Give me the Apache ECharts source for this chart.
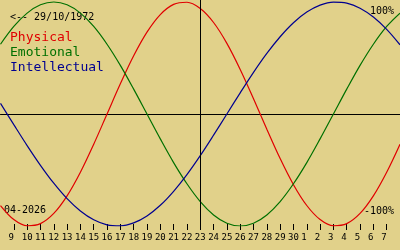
<!DOCTYPE html>
<html>
<head>
<meta charset="utf-8">
<script src="https://cdn.jsdelivr.net/npm/echarts@6/dist/echarts.min.js"></script>
<style>html,body{margin:0;padding:0;background:#e1d18a;}#c{width:400px;height:250px;}</style>
</head>
<body>
<div id="c"></div>
<script>
// Days from 8 April 2026 to 8 May 2026 (centre: 23 April)
const categories = ['8','9','10','11','12','13','14','15','16','17','18','19','20','21','22','23','24','25','26','27','28','29','30','1','2','3','4','5','6','7','8'];
const tickLabels = categories;
const centreIndex = 15;
const physical = [-81.7,-94.2,-99.8,-97.9,-88.8,-73.1,-52.0,-27.0,0,27.0,52.0,73.1,88.8,97.9,99.8,94.2,81.7,63.1,39.8,13.6,-13.6,-39.8,-63.1,-81.7,-94.2,-99.8,-97.9,-88.8,-73.1,-52.0,-27.0];
const emotional = [62.3,78.2,90.1,97.5,100,97.5,90.1,78.2,62.3,43.4,22.2,0,-22.2,-43.4,-62.3,-78.2,-90.1,-97.5,-100,-97.5,-90.1,-78.2,-62.3,-43.4,-22.2,0,22.2,43.4,62.3,78.2,90.1];
const intellectual = [9.5,-9.5,-28.2,-45.8,-61.8,-75.6,-86.6,-94.5,-99.0,-99.9,-97.2,-91.0,-81.5,-69.0,-54.1,-37.2,-18.9,0,18.9,37.2,54.1,69.0,81.5,91.0,97.2,99.9,99.0,94.5,86.6,75.6,61.8];
const birthText = '<-- 29/10/1972';
const monthText = '04-2026';
const topText = '100%';
const bottomText = '-100%';
const seriesNames = ['Physical','Emotional','Intellectual'];

const RED = '#e00000', GREEN = '#007000', BLUE = '#000090';
const MONO = '"DejaVu Sans Mono", monospace';
const inner = (i) => i > 0 && i < categories.length - 1;

const chart = echarts.init(document.getElementById('c'), null, {renderer: 'canvas'});
chart.setOption({
  animation: false,
  backgroundColor: '#e1d18a',
  grid: {left: 0.5, right: -0.5, top: 0, bottom: 24},
  xAxis: [{
    type: 'category', data: categories, boundaryGap: false, position: 'top',
    axisLine: {show: true, onZero: true, lineStyle: {color: '#000', width: 1}},
    axisTick: {show: false}, axisLabel: {show: false}, splitLine: {show: false}
  }, {
    type: 'category', data: tickLabels, boundaryGap: false, position: 'bottom', offset: -2,
    axisLine: {show: false, onZero: false},
    axisTick: {show: true, length: 6, interval: (i) => inner(i), lineStyle: {color: '#000', width: 1}},
    axisLabel: {interval: (i) => inner(i), margin: 9, color: '#000', fontFamily: MONO, fontSize: 9,
      formatter: (v) => v.length < 2 ? v + ' ' : v},
    splitLine: {show: false}
  }],
  yAxis: {type: 'value', min: -100, max: 101.8, show: false, splitLine: {show: false}},
  series: [
    {name: seriesNames[0], type: 'line', data: physical, smooth: 0.35, symbol: 'none', lineStyle: {color: RED, width: 1.2}, itemStyle: {color: RED},
     markLine: {silent: true, symbol: 'none', label: {show: false}, lineStyle: {color: '#000', width: 1, type: 'solid'}, data: [{xAxis: centreIndex}]}},
    {name: seriesNames[1], type: 'line', data: emotional, smooth: 0.35, symbol: 'none', lineStyle: {color: GREEN, width: 1.2}, itemStyle: {color: GREEN}},
    {name: seriesNames[2], type: 'line', data: intellectual, smooth: 0.35, symbol: 'none', lineStyle: {color: BLUE, width: 1.2}, itemStyle: {color: BLUE}}
  ],
  graphic: [
    {type: 'text', left: 10, top: 12, style: {text: birthText, fill: '#000', font: '10px ' + MONO}},
    {type: 'text', left: 10, top: 31, style: {text: seriesNames[0], fill: RED, font: '13px ' + MONO}},
    {type: 'text', left: 10, top: 46, style: {text: seriesNames[1], fill: GREEN, font: '13px ' + MONO}},
    {type: 'text', left: 10, top: 61, style: {text: seriesNames[2], fill: BLUE, font: '13px ' + MONO}},
    {type: 'text', right: 6, top: 6, style: {text: topText, fill: '#000', font: '10px ' + MONO}},
    {type: 'text', right: 6, top: 206, style: {text: bottomText, fill: '#000', font: '10px ' + MONO}},
    {type: 'text', left: 4, top: 205, style: {text: monthText, fill: '#000', font: '10px ' + MONO}}
  ]
});
</script>
</body>
</html>
